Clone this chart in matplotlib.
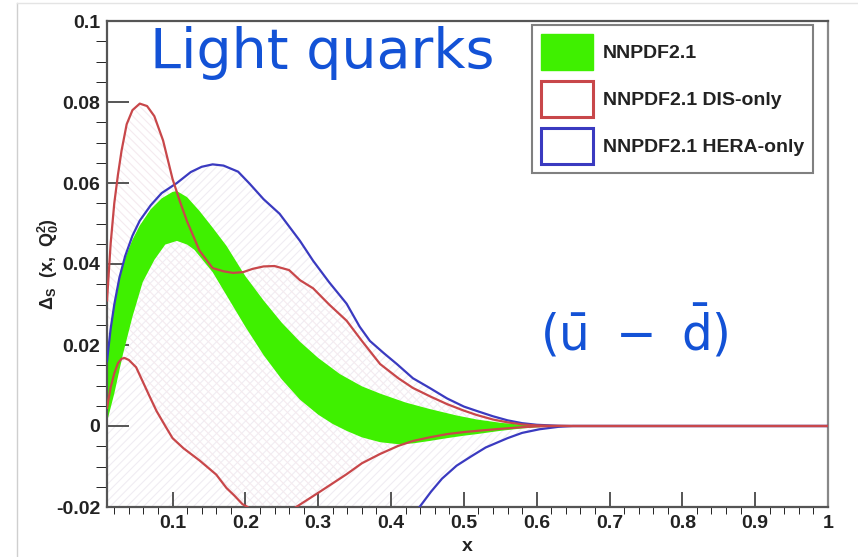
import numpy as np
import matplotlib
matplotlib.use("Agg")
import matplotlib.pyplot as plt
from matplotlib.patches import Patch
from matplotlib.lines import Line2D
from matplotlib.ticker import MultipleLocator

plt.rcParams["font.family"] = ["Liberation Sans", "DejaVu Sans"]
plt.rcParams["mathtext.default"] = "regular"
plt.rcParams["hatch.linewidth"] = 0.8

# NNPDF2.1 DIS-only envelope
dis_up_x = [0.01, 0.015, 0.02, 0.025, 0.03, 0.037, 0.045, 0.055, 0.065, 0.075, 0.087,
            0.1, 0.11, 0.12, 0.137, 0.155, 0.17, 0.183, 0.197, 0.21, 0.225, 0.24, 0.26,
            0.275, 0.293, 0.315, 0.339, 0.36, 0.385, 0.41, 0.43, 0.455, 0.477, 0.5,
            0.518, 0.54, 0.56, 0.58, 0.6, 0.62, 0.65, 0.7, 0.8, 0.9, 1.0]
dis_up_y = [0.031, 0.045, 0.055, 0.062, 0.068, 0.0745, 0.078, 0.0796, 0.079, 0.0765,
            0.0705, 0.061, 0.0555, 0.0505, 0.0433, 0.039, 0.0382, 0.0378, 0.038, 0.0388,
            0.0394, 0.0395, 0.0385, 0.036, 0.034, 0.030, 0.026, 0.021, 0.0153, 0.0118,
            0.0094, 0.0072, 0.0054, 0.0038, 0.0027, 0.0016, 0.0009, 0.0004, 0.00015,
            0.00005, 0.0, 0.0, 0.0, 0.0, 0.0]
dis_lo_x = [0.01, 0.015, 0.02, 0.025, 0.03, 0.034, 0.04, 0.05, 0.059, 0.068, 0.078,
            0.09, 0.1, 0.115, 0.137, 0.16, 0.174, 0.185, 0.196, 0.203, 0.22, 0.235,
            0.25, 0.268, 0.3, 0.339, 0.36, 0.385, 0.41, 0.43, 0.453, 0.477, 0.5, 0.518,
            0.55, 0.58, 0.6, 0.63, 0.65, 0.7, 0.8, 0.9, 1.0]
dis_lo_y = [0.0045, 0.0095, 0.013, 0.0155, 0.0166, 0.0168, 0.0163, 0.0145, 0.011,
            0.0075, 0.0037, 0.0, -0.003, -0.0055, -0.0085, -0.012, -0.0153, -0.0172,
            -0.0193, -0.020, -0.0225, -0.0235, -0.0225, -0.0202, -0.0165, -0.0119,
            -0.0092, -0.0069, -0.0049, -0.0037, -0.0028, -0.002, -0.0015, -0.0012,
            -0.0007, -0.0003, -0.0001, 0.0, 0.0, 0.0, 0.0, 0.0, 0.0]

# NNPDF2.1 HERA-only envelope
hera_up_x = [0.01, 0.015, 0.02, 0.027, 0.035, 0.045, 0.055, 0.07, 0.085, 0.106, 0.125,
             0.14, 0.155, 0.17, 0.19, 0.206, 0.225, 0.247, 0.275, 0.293, 0.315, 0.339,
             0.357, 0.371, 0.39, 0.408, 0.43, 0.453, 0.477, 0.5, 0.518, 0.54, 0.56,
             0.58, 0.6, 0.63, 0.65, 0.7, 0.8, 0.9, 1.0]
hera_up_y = [0.016, 0.024, 0.030, 0.0366, 0.042, 0.047, 0.0507, 0.0545, 0.0575, 0.060,
             0.0627, 0.0640, 0.0646, 0.0643, 0.0628, 0.0598, 0.056, 0.0524, 0.0457,
             0.0408, 0.0355, 0.0302, 0.0245, 0.021, 0.018, 0.0153, 0.0118, 0.0094,
             0.0068, 0.0048, 0.0037, 0.0024, 0.0014, 0.0007, 0.0003, 0.00005, 0.0,
             0.0, 0.0, 0.0, 0.0]
hera_lo_x = [0.01, 0.1, 0.2, 0.3, 0.38, 0.42, 0.44, 0.455, 0.47, 0.49, 0.51, 0.53,
             0.56, 0.58, 0.604, 0.63, 0.65, 0.7, 0.8, 0.9, 1.0]
hera_lo_y = [-0.06, -0.07, -0.065, -0.048, -0.032, -0.024, -0.0198, -0.0162, -0.013,
             -0.0098, -0.0075, -0.0053, -0.003, -0.0017, -0.0008, -0.0002, 0.0, 0.0,
             0.0, 0.0, 0.0]

# NNPDF2.1 (global) uncertainty band
nn_up_x = [0.01, 0.015, 0.02, 0.027, 0.035, 0.045, 0.055, 0.07, 0.085, 0.1, 0.106,
           0.12, 0.137, 0.155, 0.174, 0.2, 0.225, 0.25, 0.275, 0.3, 0.33, 0.36, 0.385,
           0.42, 0.453, 0.49, 0.518, 0.55, 0.58, 0.61, 0.64, 0.67]
nn_up_y = [0.016, 0.024, 0.030, 0.0362, 0.0415, 0.046, 0.0495, 0.0535, 0.0562, 0.0578,
           0.058, 0.0565, 0.0531, 0.049, 0.0445, 0.037, 0.031, 0.0255, 0.0208, 0.0168,
           0.0128, 0.0098, 0.0080, 0.0058, 0.0042, 0.0026, 0.0016, 0.0008, 0.0003,
           0.0001, 0.0, 0.0]
nn_lo_x = [0.01, 0.02, 0.032, 0.045, 0.059, 0.075, 0.09, 0.106, 0.12, 0.13, 0.155,
           0.175, 0.2, 0.225, 0.25, 0.275, 0.3, 0.32, 0.339, 0.36, 0.385, 0.41, 0.43,
           0.453, 0.477, 0.5, 0.518, 0.55, 0.58, 0.61, 0.64, 0.67]
nn_lo_y = [0.001, 0.008, 0.0178, 0.027, 0.0355, 0.041, 0.0448, 0.0457, 0.0448, 0.0435,
           0.038, 0.032, 0.0245, 0.0175, 0.0115, 0.0065, 0.0028, 0.0005, -0.0012,
           -0.0028, -0.004, -0.0045, -0.0043, -0.0037, -0.003, -0.0024, -0.002,
           -0.0012, -0.0006, -0.0002, 0.0, 0.0]

x_ticks = [0.1, 0.2, 0.3, 0.4, 0.5, 0.6, 0.7, 0.8, 0.9, 1.0]
x_ticklabels = ["0.1", "0.2", "0.3", "0.4", "0.5", "0.6", "0.7", "0.8", "0.9", "1"]
y_ticks = [-0.02, 0.0, 0.02, 0.04, 0.06, 0.08, 0.1]
y_ticklabels = ["-0.02", "0", "0.02", "0.04", "0.06", "0.08", "0.1"]

GREEN = "#3ff000"
RED = "#c8474a"
BLUE = "#3a3ac0"
AXC = "#555555"

W, H = 858, 557
fig = plt.figure(figsize=(W / 100, H / 100), dpi=100)
ax = fig.add_axes([107 / W, 1 - 507 / H, (828 - 107) / W, (507 - 21) / H])

# faint hatched envelopes
ax.fill(np.concatenate([hera_up_x, hera_lo_x[::-1]]),
        np.concatenate([hera_up_y, hera_lo_y[::-1]]),
        facecolor="none", edgecolor="#f0edf3", hatch="////", lw=0, zorder=1)
ax.fill(np.concatenate([dis_up_x, dis_lo_x[::-1]]),
        np.concatenate([dis_up_y, dis_lo_y[::-1]]),
        facecolor="none", edgecolor="#f5ebef", hatch="\\\\\\\\", lw=0, zorder=1)

ax.fill(np.concatenate([nn_up_x, nn_lo_x[::-1]]),
        np.concatenate([nn_up_y, nn_lo_y[::-1]]),
        facecolor=GREEN, edgecolor="none", zorder=2)

for xs, ys, c in [(hera_up_x, hera_up_y, BLUE), (hera_lo_x, hera_lo_y, BLUE),
                  (dis_up_x, dis_up_y, RED), (dis_lo_x, dis_lo_y, RED)]:
    ax.plot(xs, ys, color=c, lw=1.6, zorder=3)

ax.set_xlim(0.01, 1.0)
ax.set_ylim(-0.02, 0.1)
ax.set_xticks(x_ticks, x_ticklabels)
ax.set_yticks(y_ticks, y_ticklabels)
ax.xaxis.set_minor_locator(MultipleLocator(0.02))
ax.yaxis.set_minor_locator(MultipleLocator(0.005))
ax.tick_params(direction="in", color=AXC, width=1.4, labelsize=14, labelcolor="#222222")
ax.tick_params(axis="x", which="major", length=10.5, pad=6)
ax.tick_params(axis="x", which="minor", length=5)
ax.tick_params(axis="y", which="major", length=16, pad=5)
ax.tick_params(axis="y", which="minor", length=8)
for lab in ax.get_xticklabels() + ax.get_yticklabels():
    lab.set_fontweight("bold")
for side, sp in ax.spines.items():
    sp.set_color(AXC if side in ("left", "bottom", "top") else "#888888")
    sp.set_linewidth(1.6)

ax.set_xlabel("x", fontsize=14, fontweight="bold", color="#222222", labelpad=4)
ax.set_ylabel("Δ$_S$  (x,  Q$_0^2$)", fontsize=13, fontweight="bold", color="#222222")
ax.yaxis.set_label_coords(-0.064, 0.5)

handles = [Patch(facecolor=GREEN, edgecolor=GREEN),
           Patch(facecolor="white", edgecolor=RED, lw=2.2),
           Patch(facecolor="white", edgecolor=BLUE, lw=2.2)]
labels = ["NNPDF2.1", "NNPDF2.1 DIS-only", "NNPDF2.1 HERA-only"]
leg = ax.legend(handles, labels, loc="upper left",
                bbox_to_anchor=(532 / W, 1 - 25 / H), bbox_transform=fig.transFigure,
                prop={"weight": "bold", "size": 14}, handlelength=2.68,
                handleheight=2.48, labelspacing=0.57, borderpad=0.44,
                handletextpad=0.52, borderaxespad=0, fancybox=False, framealpha=1)
leg.get_frame().set_edgecolor("#808080")
leg.get_frame().set_linewidth(1.5)
for t in leg.get_texts():
    t.set_color("#222222")

# handwritten notes
fig.text(150 / W, 1 - 68 / H, "Light quarks", fontsize=40, color="#1352d6",
         family="DejaVu Sans", va="baseline")
fig.text(540 / W, 1 - 332 / H, r"$(\bar{u}\ -\ \bar{d})$", fontsize=35,
         color="#1352d6", family="DejaVu Sans", va="center")

# outer frame edges
fig.add_artist(Line2D([17 / W, 17 / W], [0, 1 - 3 / H], transform=fig.transFigure,
                      color="#cfcfcf", lw=1))
fig.add_artist(Line2D([17 / W, 1], [1 - 3 / H, 1 - 3 / H], transform=fig.transFigure,
                      color="#e4e4e4", lw=1))

fig.savefig("out.png", dpi=100)
